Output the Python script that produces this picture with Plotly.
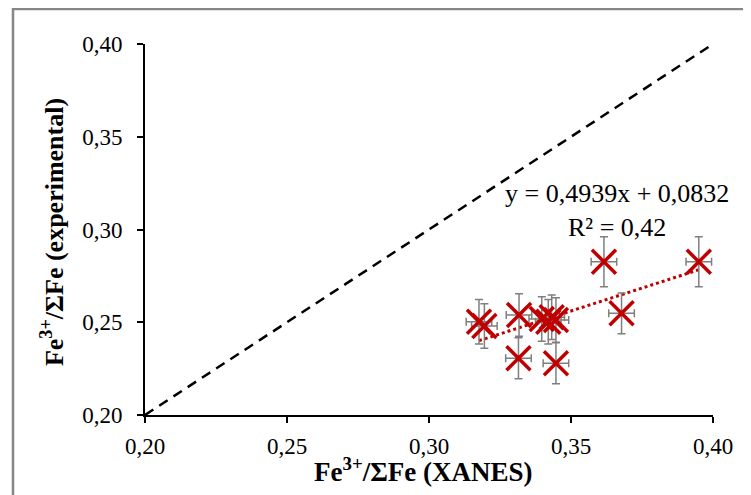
import numpy as np
import plotly.graph_objects as go

# Data
xanes = [0.3176, 0.3195, 0.3317, 0.3315, 0.3397, 0.3420, 0.3432, 0.3447, 0.3447, 0.3616, 0.3678, 0.3950]
experimental = [0.2503, 0.2480, 0.2539, 0.2306, 0.2517, 0.2503, 0.2527, 0.2512, 0.2279, 0.2826, 0.2548, 0.2826]
xanes_err = [0.0045] * 12
exp_err = [0.012, 0.012, 0.0115, 0.011, 0.012, 0.012, 0.012, 0.012, 0.011, 0.0135, 0.011, 0.0135]

slope = 0.4939
intercept = 0.0832
r_squared = 0.42

one_to_one = [0.20, 0.40]
tick_vals = [0.20, 0.25, 0.30, 0.35, 0.40]

x_title = "<b>Fe<sup>3+</sup>/ΣFe (XANES)</b>"
y_title = "<b>Fe<sup>3+</sup>/ΣFe (experimental)</b>"

fig = go.Figure()

# 1:1 line
fig.add_trace(go.Scatter(
    x=one_to_one, y=one_to_one, mode="lines",
    line=dict(color="black", width=2.5, dash="10px,7px"),
    showlegend=False, hoverinfo="skip"))

# trendline
tx = np.array([min(xanes), max(xanes)])
fig.add_trace(go.Scatter(
    x=tx, y=slope * tx + intercept, mode="lines",
    line=dict(color="#C00000", width=3, dash="dot"),
    showlegend=False, hoverinfo="skip"))

# data points with error bars
fig.add_trace(go.Scatter(
    x=xanes, y=experimental, mode="markers",
    marker=dict(symbol="x-thin-open", size=24, line=dict(color="#C00000", width=3.5), color="#C00000"),
    error_x=dict(type="data", array=xanes_err, visible=True, color="#7f7f7f", thickness=1.5, width=4),
    error_y=dict(type="data", array=exp_err, visible=True, color="#7f7f7f", thickness=1.5, width=4),
    showlegend=False))

serif = "Liberation Serif"

fig.add_annotation(
    x=0.3662, y=0.3105, xref="x", yref="y",
    text=f"y = {str(slope).replace('.', ',')}x + {str(intercept).replace('.', ',')}<br>R² = {str(r_squared).replace('.', ',')}",
    showarrow=False, xanchor="center", yanchor="middle", align="center",
    font=dict(family=serif, size=26, color="black"))

# axis titles
fig.add_annotation(x=0.5, y=0, xref="paper", yref="paper", text=x_title,
                   showarrow=False, xanchor="center", yanchor="middle", yshift=-55, xshift=-6,
                   font=dict(family=serif, size=27, color="black"))
fig.add_annotation(x=0, y=0.493, xref="paper", yref="paper", text=y_title, textangle=-90,
                   showarrow=False, xanchor="center", yanchor="middle", xshift=-93,
                   font=dict(family=serif, size=26, color="black"))

# chart border (extends beyond the visible area on right and bottom)
fig.add_shape(type="rect", xref="paper", yref="paper",
              x0=-0.2324, x1=1.2, y0=-0.4, y1=1.0943,
              line=dict(color="#878787", width=2.5), fillcolor="rgba(0,0,0,0)", layer="below")

axis_common = dict(
    range=[0.20, 0.40], tickvals=tick_vals, tickformat=".2f", automargin=False,
    showgrid=False, zeroline=False, showline=True, linecolor="black", linewidth=2,
    ticks="outside", ticklen=6, tickwidth=2, tickcolor="black",
    tickfont=dict(family=serif, size=23, color="black"))

# margins compensate for the page's default 8px body margin
fig.update_layout(
    width=751, height=495,
    margin=dict(l=137, r=46, t=36, b=88),
    paper_bgcolor="white", plot_bgcolor="white",
    separators=",.",
    xaxis=dict(**axis_common, ticklabelstandoff=3),
    yaxis=dict(**axis_common, ticklabelstandoff=10),
)

fig.write_html("out.html")
